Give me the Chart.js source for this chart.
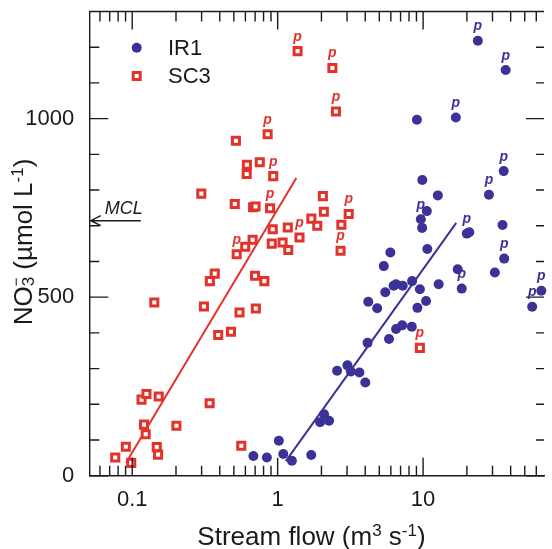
<!DOCTYPE html>
<html>
<head>
<meta charset="utf-8">
<script src="https://cdn.jsdelivr.net/npm/chart.js@4.4.1/dist/chart.umd.min.js"></script>
<style>
  html, body { margin: 0; padding: 0; background: #fff; }
  #wrap { width: 552px; height: 549px; position: relative; }
</style>
</head>
<body>
<div id="wrap"><canvas id="no3Chart"></canvas></div>
<script>
// IR1 samples: stream flow (m3/s) and nitrate (umol/L)
const irFlow = [0.681, 0.843, 1.019, 1.093, 1.253, 1.702, 1.958, 2.087, 2.256, 2.563,
  3.018, 3.187, 3.649, 4.006, 4.152, 4.198, 4.836, 5.495, 5.829, 6.270,
  6.519, 7.246, 6.519, 7.178, 8.362, 8.402, 9.500, 9.138, 10.48, 12.79,
  5.367, 5.957, 10.69, 9.845, 9.650, 10.61, 9.876, 12.63, 17.29, 18.43,
  19.98, 20.78, 28.36, 35.83, 35.16, 36.10, 31.13, 56.23, 64.98, 23.79,
  36.95, 9.066, 16.79];
const irNO3 = [55, 51, 98, 61, 42, 58, 150, 172, 154, 294,
  309, 292, 289, 261, 372, 487, 469, 514, 383, 532,
  536, 532, 411, 421, 417, 545, 522, 470, 489, 536,
  587, 625, 635, 694, 718, 741, 828, 785, 578, 524,
  678, 682, 787, 853, 702, 608, 569, 473, 518, 1218,
  1136, 997, 1003];
// indices of samples marked "p"
const irP = [34, 39, 40, 42, 43, 45, 47, 48, 49, 50, 52];

// SC3 samples
const scFlow = [0.0764, 0.0904, 0.0985, 0.1159, 0.1253, 0.1205, 0.1238, 0.1522, 0.1475, 0.1506,
  0.2013, 0.3407, 0.5623, 0.1419, 0.3113, 0.3902, 0.4775, 0.5469, 0.7079, 0.3418,
  0.8104, 0.3695, 0.6992, 0.5228, 0.5984, 0.6727, 0.911, 0.925, 1.081, 1.183,
  1.174, 1.413, 1.705, 1.872, 2.046, 2.078, 2.741, 3.080, 2.707, 0.887,
  0.678, 0.705, 0.507, 0.2985, 0.9324, 0.6145, 0.6126, 0.7534, 0.5163, 0.8532,
  1.371, 2.379, 2.516, 9.500];
const scNO3 = [51, 81, 36, 213, 229, 143, 116, 222, 80, 59,
  140, 203, 84, 485, 474, 394, 403, 457, 468, 545,
  545, 566, 560, 620, 641, 661, 650, 690, 653, 632,
  695, 667, 720, 700, 783, 739, 703, 733, 630, 749,
  752, 754, 761, 790, 839, 871, 845, 878, 938, 956,
  1189, 1142, 1020, 358];
const scP = [23, 31, 37, 38, 39, 44, 49, 50, 51, 52, 53];

// regression line end points
const irFitFlow = [1.138, 16.9];
const irFitNO3 = [41, 708];
const scFitFlow = [0.0907, 1.344];
const scFitNO3 = [36, 834];

const mclValue = 714;
const xTickVals = [0.1, 1, 10];
const yTickVals = [0, 500, 1000];

const BLUE = "#3b3297";
const RED = "#e2322a";
const INK = "#1a1a1a";
const FONT = "'Liberation Sans', Arial, Helvetica, sans-serif";

function pts(xs, ys) {
  return xs.map((x, i) => ({ x: x, y: ys[i] }));
}

// draw text made of pieces (normal / sub / sup), centred on x
function drawRich(ctx, parts, cx, baseY) {
  let total = 0;
  parts.forEach(p => {
    ctx.font = p.size + "px " + FONT;
    p.w = ctx.measureText(p.t).width;
    if (!p.stack) total += p.w;
  });
  let x = cx - total / 2, lastX = x;
  ctx.textAlign = "left";
  ctx.textBaseline = "alphabetic";
  parts.forEach(p => {
    ctx.font = p.size + "px " + FONT;
    const px = p.stack ? lastX : x;
    ctx.fillText(p.t, px, baseY + (p.dy || 0));
    if (!p.stack) { lastX = x; x += p.w; }
  });
}

const framePlugin = {
  id: "frame",
  afterDraw(chart) {
    const ctx = chart.ctx;
    const a = chart.chartArea;
    const xs = chart.scales.x, ys = chart.scales.y;
    ctx.save();
    ctx.strokeStyle = INK;
    ctx.lineWidth = 1.4;

    // top border
    ctx.beginPath();
    ctx.moveTo(a.left, a.top);
    ctx.lineTo(a.right, a.top);
    ctx.stroke();

    // inward ticks on x (bottom + top)
    ctx.beginPath();
    [0.01, 0.1, 1, 10].forEach(d => {
      for (let k = 1; k <= 9; k++) {
        const v = k * d;
        if (v < xs.min || v > xs.max) continue;
        const px = xs.getPixelForValue(v);
        const len = k === 1 ? 18 : 10;
        ctx.moveTo(px, a.bottom); ctx.lineTo(px, a.bottom - len);
        ctx.moveTo(px, a.top); ctx.lineTo(px, a.top + len);
      }
    });
    // inward ticks on y (left + right)
    for (let v = 0; v < 1300; v += 100) {
      const py = ys.getPixelForValue(v);
      const major = v % 500 === 0;
      ctx.moveTo(a.left, py); ctx.lineTo(a.left + (major ? 19 : 10), py);
      ctx.moveTo(a.right, py); ctx.lineTo(a.right - (major ? 18 : 8), py);
    }
    ctx.stroke();

    // MCL arrow
    const my = ys.getPixelForValue(mclValue);
    const tip = a.left + 1.5;
    ctx.lineWidth = 1.4;
    ctx.beginPath();
    ctx.moveTo(tip + 50, my); ctx.lineTo(tip, my);
    ctx.moveTo(tip + 10, my - 5); ctx.lineTo(tip, my); ctx.lineTo(tip + 10, my + 5);
    ctx.stroke();
    ctx.fillStyle = INK;
    ctx.font = "italic 18px " + FONT;
    ctx.textAlign = "left";
    ctx.textBaseline = "alphabetic";
    ctx.fillText("MCL", tip + 14, my - 6.5);

    // "p" markers
    ctx.font = "bold italic 14px " + FONT;
    ctx.textAlign = "center";
    [[0, irP, BLUE], [1, scP, RED]].forEach(([di, idx, col]) => {
      const meta = chart.getDatasetMeta(di);
      ctx.fillStyle = col;
      idx.forEach(i => {
        const el = meta.data[i];
        ctx.fillText("p", el.x, el.y - 10.5);
      });
    });

    // legend
    ctx.fillStyle = BLUE;
    ctx.beginPath();
    ctx.arc(136.7, 47.7, 5, 0, Math.PI * 2);
    ctx.fill();
    ctx.strokeStyle = RED;
    ctx.lineWidth = 3;
    ctx.fillStyle = "#fff";
    ctx.beginPath();
    ctx.rect(136.7 - 3.5, 76 - 3.5, 7, 7);
    ctx.fill();
    ctx.stroke();
    ctx.fillStyle = INK;
    ctx.font = "22px " + FONT;
    ctx.textAlign = "left";
    ctx.textBaseline = "middle";
    ctx.fillText("IR1", 168, 48.5);
    ctx.fillText("SC3", 168, 77);

    // axis titles
    ctx.fillStyle = INK;
    drawRich(ctx, [
      { t: "Stream flow (m", size: 26 },
      { t: "3", size: 17, dy: -9 },
      { t: " s", size: 26 },
      { t: "-1", size: 17, dy: -9 },
      { t: ")", size: 26 }
    ], 311.5, 545);

    ctx.save();
    ctx.translate(31.5, 242);
    ctx.rotate(-Math.PI / 2);
    drawRich(ctx, [
      { t: "NO", size: 26 },
      { t: "3", size: 17, dy: 2 },
      { t: "\u2212", size: 15, dy: -11, stack: true },
      { t: " (\u00b5mol L", size: 26 },
      { t: "-1", size: 17, dy: -9 },
      { t: ")", size: 26 }
    ], 0, 0);
    ctx.restore();

    ctx.restore();
  }
};

const ctx = document.getElementById("no3Chart").getContext("2d");

new Chart(ctx, {
  type: "scatter",
  data: {
    datasets: [
      {
        label: "IR1",
        data: pts(irFlow, irNO3),
        pointStyle: "circle",
        pointRadius: 5,
        backgroundColor: BLUE,
        borderColor: BLUE,
        borderWidth: 0,
        clip: false
      },
      {
        label: "SC3",
        data: pts(scFlow, scNO3),
        pointStyle: "rect",
        pointRadius: 5,
        backgroundColor: "#fff",
        borderColor: RED,
        borderWidth: 3,
        clip: false
      },
      {
        label: "IR1 fit",
        data: pts(irFitFlow, irFitNO3),
        showLine: true,
        borderColor: BLUE,
        borderWidth: 2,
        pointRadius: 0
      },
      {
        label: "SC3 fit",
        data: pts(scFitFlow, scFitNO3),
        showLine: true,
        borderColor: RED,
        borderWidth: 2,
        pointRadius: 0
      }
    ]
  },
  options: {
    responsive: true,
    maintainAspectRatio: false,
    animation: false,
    layout: { padding: { top: 11.5, right: 0, left: 0, bottom: 0 } },
    plugins: {
      legend: { display: false },
      tooltip: { enabled: false }
    },
    scales: {
      x: {
        type: "logarithmic",
        min: 0.0507,
        max: 67.8,
        grid: { display: false },
        border: { display: true, color: INK, width: 1.4 },
        afterBuildTicks: s => { s.ticks = xTickVals.map(v => ({ value: v })); },
        afterFit: s => {
          s.height = 73.3;
          s.paddingLeft = 0; s.paddingRight = 0;
        },
        ticks: {
          autoSkip: false,
          maxRotation: 0,
          padding: 3,
          color: INK,
          font: { family: FONT, size: 22 },
          callback: v => String(v)
        }
      },
      y: {
        min: 0,
        max: 1300,
        grid: { display: false },
        border: { display: true, color: INK, width: 1.4 },
        afterBuildTicks: s => { s.ticks = yTickVals.map(v => ({ value: v })); },
        afterFit: s => {
          s.width = 89.3;
          s.paddingTop = 0; s.paddingBottom = 0;
        },
        ticks: {
          padding: 7,
          color: INK,
          font: { family: FONT, size: 22 },
          callback: v => String(v)
        }
      }
    }
  },
  plugins: [framePlugin]
});
</script>
</body>
</html>
